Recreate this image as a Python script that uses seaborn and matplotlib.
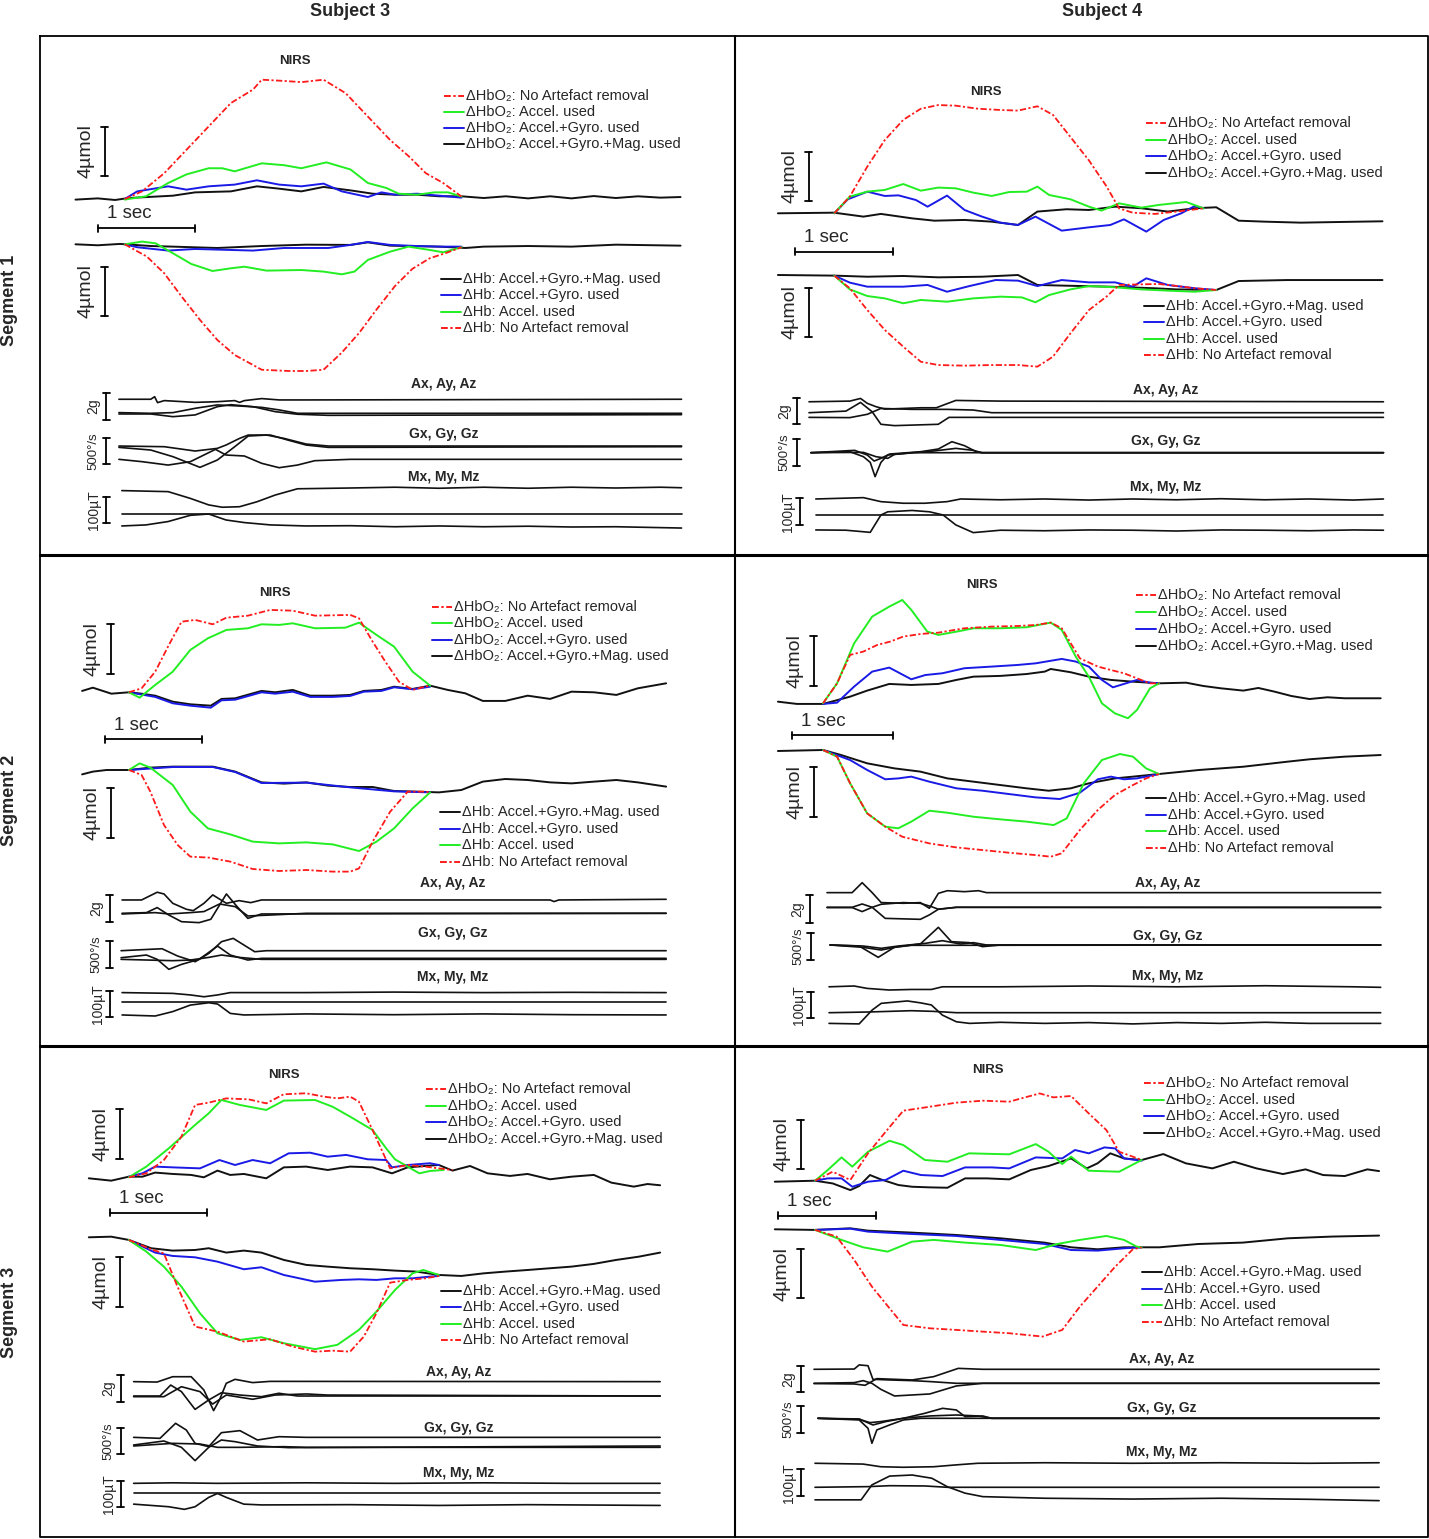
import matplotlib.pyplot as plt
import seaborn as sns

W, H = 1429, 1539

# ---------------- data: (time in s, value) keypoints ----------------
# Subject 3, Segment 1  (NIRS in umol, accel in g, gyro in deg/s, mag in uT)
s3g1_oxy_black_t = [0, 0.23, 0.41, 0.55, 1.01, 1.24, 1.61, 1.88, 2.11, 2.34, 2.57, 2.85, 3.08, 3.31, 3.54, 3.77, 4.0, 4.23, 4.46, 4.69, 4.92, 5.14, 5.37, 5.6, 5.83, 6.06, 6.27]
s3g1_oxy_black_v = [-0.05, 0.05, -0.08, 0.08, 0.27, 0.54, 0.62, 1.03, 0.84, 0.62, 0.98, 0.7, 0.43, 0.35, 0.35, 0.22, 0.22, 0.08, 0.22, 0.05, 0.22, 0.05, 0.24, 0.08, 0.22, 0.11, 0.16]
s3g1_oxy_red_t = [0.51, 0.69, 0.92, 1.15, 1.38, 1.61, 1.84, 1.93, 2.16, 2.34, 2.57, 2.8, 3.03, 3.26, 3.45, 3.63, 3.81, 4.0]
s3g1_oxy_red_v = [0, 0.62, 2.1, 4.0, 5.9, 7.8, 8.9, 9.7, 9.6, 9.5, 9.7, 8.6, 6.7, 4.8, 3.5, 2.1, 1.3, 0.2]
s3g1_oxy_green_t = [0.51, 0.73, 0.96, 1.15, 1.38, 1.52, 1.65, 1.93, 2.16, 2.34, 2.6, 2.85, 3.03, 3.22, 3.35, 3.54, 3.72, 3.86, 4.0]
s3g1_oxy_green_v = [-0.05, 0.22, 1.3, 2.0, 2.5, 2.5, 2.25, 2.9, 2.75, 2.5, 2.98, 2.4, 1.3, 0.9, 0.43, 0.35, 0.54, 0.54, 0.2]
s3g1_oxy_blue_t = [0.51, 0.64, 0.96, 1.15, 1.38, 1.65, 1.88, 2.11, 2.34, 2.57, 2.76, 3.03, 3.17, 3.31, 3.54, 3.77, 4.0]
s3g1_oxy_blue_v = [0, 0.62, 1.03, 0.76, 1.03, 1.17, 1.52, 1.17, 1.03, 1.25, 0.62, 0.16, 0.54, 0.35, 0.43, 0.27, 0.11]
s3g1_deoxy_black_t = [0, 0.23, 0.46, 0.78, 1.01, 1.47, 1.93, 2.39, 2.85, 3.03, 3.26, 3.77, 4.04, 4.23, 4.69, 5.14, 5.6, 6.27]
s3g1_deoxy_black_v = [0, -0.08, 0.03, -0.14, -0.19, -0.3, -0.14, -0.03, -0.05, 0.16, -0.11, -0.19, -0.3, -0.19, -0.14, -0.19, -0.03, -0.11]
s3g1_deoxy_blue_t = [0.51, 0.64, 0.96, 1.24, 1.84, 2.16, 2.62, 2.85, 3.03, 3.26, 3.54, 3.77, 4.0]
s3g1_deoxy_blue_v = [0, -0.24, -0.51, -0.38, -0.51, -0.3, -0.3, -0.05, 0.19, -0.05, -0.14, -0.19, -0.19]
s3g1_deoxy_green_t = [0.51, 0.69, 0.83, 1.01, 1.2, 1.42, 1.61, 1.75, 1.98, 2.34, 2.57, 2.76, 2.89, 3.03, 3.26, 3.45, 3.67, 3.81, 4.0]
s3g1_deoxy_green_v = [0, 0.22, 0.08, -0.73, -1.6, -2.17, -1.95, -1.82, -2.14, -2.09, -2.22, -2.44, -2.22, -1.27, -0.6, -0.19, -0.46, -0.65, -0.24]
s3g1_deoxy_red_t = [0.51, 0.74, 0.92, 1.1, 1.29, 1.47, 1.65, 1.93, 2.21, 2.39, 2.57, 2.76, 2.94, 3.12, 3.31, 3.49, 3.67, 3.86, 4.0]
s3g1_deoxy_red_v = [0, -1.0, -2.36, -4.25, -6.15, -7.78, -9.0, -10.2, -10.3, -10.3, -10.2, -8.8, -7.2, -5.3, -3.4, -2.0, -1.14, -0.65, -0.24]
s3g1_ax_t = [0.45, 0.78, 0.82, 0.85, 0.92, 1.24, 1.47, 1.65, 1.7, 1.75, 1.93, 2.11, 2.39, 6.28]
s3g1_ax_v = [1.04, 1.04, 1.23, 0.79, 0.94, 0.81, 0.86, 0.94, 0.81, 0.94, 1.09, 0.99, 0.99, 1.04]
s3g1_ay_t = [0.45, 0.78, 1.01, 1.24, 1.47, 1.7, 1.93, 2.11, 2.3, 6.28]
s3g1_ay_v = [0.05, 0, 0.05, 0.37, 0.62, 0.54, 0.44, 0.25, 0, 0]
s3g1_az_t = [0.45, 0.78, 1.01, 1.24, 1.47, 1.61, 1.84, 2.07, 2.3, 2.62, 6.28]
s3g1_az_v = [-0.05, -0.05, -0.25, -0.12, 0.49, 0.64, 0.49, 0.12, -0.07, -0.15, -0.1]
s3g1_gx_t = [0.45, 0.92, 1.24, 1.47, 1.56, 1.7, 1.79, 2.02, 2.2, 2.39, 2.62, 6.28]
s3g1_gx_v = [13, 0, -83, -32, 32, 160, 224, 224, 128, 32, -13, 0]
s3g1_gy_t = [0.45, 0.78, 1.01, 1.29, 1.47, 1.65, 1.79, 1.98, 2.16, 2.39, 2.62, 6.28]
s3g1_gy_v = [-13, -64, -192, -397, -256, 0, 205, 224, 160, 51, 13, 13]
s3g1_gz_t = [0.45, 0.69, 0.96, 1.19, 1.45, 1.56, 1.75, 1.93, 2.11, 2.3, 2.48, 2.85, 6.28]
s3g1_gz_v = [-243, -288, -353, -288, -51, -160, -179, -320, -404, -353, -269, -243, -243]
s3g1_mx_t = [0.48, 0.96, 1.19, 1.38, 1.52, 1.7, 1.88, 2.07, 2.3, 2.85, 3.31, 3.77, 4.23, 4.69, 5.14, 5.6, 6.06, 6.28]
s3g1_mx_v = [90, 86, 60, 35, 26, 28, 47, 73, 97, 100, 103, 99, 103, 99, 103, 100, 103, 101]
s3g1_my_t = [0.48, 6.28]
s3g1_my_v = [0, 0]
s3g1_mz_t = [0.48, 0.73, 0.96, 1.19, 1.38, 1.56, 1.75, 2.02, 2.39, 2.85, 3.31, 3.77, 4.23, 4.69, 5.14, 5.6, 6.28]
s3g1_mz_v = [-46, -42, -29, -5, 0, -23, -33, -42, -46, -45, -49, -46, -49, -47, -50, -49, -54]

# Subject 4, Segment 1
s4g1_oxy_black_t = [0, 0.58, 0.88, 1.06, 1.38, 1.61, 1.92, 2.2, 2.47, 2.67, 2.97, 3.2, 3.47, 3.74, 4.01, 4.29, 4.51, 4.74, 5.01, 5.38, 5.83, 6.22]
s4g1_oxy_black_v = [0, 0.05, -0.27, -0.05, -0.41, -0.6, -0.54, -0.68, -0.95, 0.14, 0.33, 0.27, 0.54, 0.41, 0.14, 0.41, 0.49, -0.6, -0.68, -0.76, -0.7, -0.65]
s4g1_oxy_red_t = [0.58, 0.74, 0.92, 1.1, 1.29, 1.47, 1.65, 1.83, 2.06, 2.29, 2.47, 2.67, 2.83, 3.01, 3.2, 3.38, 3.51, 3.65, 3.88, 4.1, 4.38]
s4g1_oxy_red_v = [0, 1.36, 3.8, 5.96, 7.6, 8.5, 8.8, 8.75, 8.5, 8.4, 8.35, 8.7, 8.0, 6.2, 4.3, 2.2, 0.4, 0.05, -0.05, 0.14, 0.4]
s4g1_oxy_green_t = [0.58, 0.74, 0.92, 1.1, 1.29, 1.47, 1.65, 1.83, 2.01, 2.2, 2.38, 2.56, 2.67, 2.79, 3.01, 3.2, 3.33, 3.51, 3.74, 3.92, 4.2, 4.38]
s4g1_oxy_green_v = [0, 1.36, 1.76, 1.9, 2.38, 1.84, 2.09, 2.03, 1.68, 1.41, 1.73, 1.76, 2.17, 1.49, 1.14, 0.54, 0.22, 0.81, 0.46, 0.68, 0.92, 0.4]
s4g1_oxy_blue_t = [0.58, 0.72, 0.92, 1.1, 1.24, 1.42, 1.54, 1.74, 1.92, 2.1, 2.29, 2.47, 2.65, 2.92, 3.2, 3.42, 3.56, 3.79, 3.97, 4.15, 4.29, 4.38]
s4g1_oxy_blue_v = [0, 1.14, 1.76, 1.41, 1.46, 1.08, 0.54, 1.44, 0.27, -0.27, -0.76, -0.95, -0.27, -1.41, -1.14, -0.95, -0.49, -1.49, -0.54, 0, 0.6, 0.4]
s4g1_deoxy_black_t = [0, 0.58, 0.92, 1.29, 1.65, 2.1, 2.47, 2.67, 2.97, 3.42, 3.88, 4.1, 4.51, 4.74, 5.24, 6.22]
s4g1_deoxy_black_v = [0, -0.05, -0.14, -0.08, -0.19, -0.14, 0, -0.81, -0.87, -0.95, -1.08, -1.17, -1.22, -0.49, -0.41, -0.41]
s4g1_deoxy_blue_t = [0.58, 0.74, 0.92, 1.29, 1.54, 1.74, 1.97, 2.24, 2.47, 2.67, 2.92, 3.2, 3.47, 3.65, 3.79, 4.01, 4.29, 4.51]
s4g1_deoxy_blue_v = [-0.05, -0.62, -0.95, -0.95, -0.81, -1.36, -0.9, -0.41, -0.46, -0.9, -0.41, -0.6, -0.6, -0.95, -0.27, -0.81, -1.08, -1.22]
s4g1_deoxy_green_t = [0.58, 0.74, 0.92, 1.1, 1.29, 1.47, 1.74, 2.01, 2.29, 2.51, 2.65, 2.79, 3.01, 3.2, 3.47, 3.74, 4.01, 4.29, 4.51]
s4g1_deoxy_green_v = [-0.05, -1.17, -1.71, -1.9, -2.3, -2.03, -2.17, -1.9, -1.76, -1.82, -2.22, -1.63, -1.17, -0.9, -1.0, -1.17, -1.27, -1.36, -1.22]
s4g1_deoxy_red_t = [0.58, 0.74, 0.92, 1.1, 1.29, 1.47, 1.65, 1.92, 2.2, 2.47, 2.67, 2.83, 3.01, 3.2, 3.38, 3.51, 3.74, 3.92, 4.1, 4.29, 4.51]
s4g1_deoxy_red_v = [-0.05, -1.08, -2.85, -4.47, -5.83, -7.05, -7.32, -7.37, -7.32, -7.32, -7.45, -6.64, -4.74, -2.85, -1.76, -0.81, -0.76, -0.73, -0.89, -1.08, -1.22]
s4g1_ax_t = [0.32, 0.74, 0.85, 0.92, 1.01, 1.1, 1.29, 1.47, 1.63, 1.72, 1.83, 2.29, 6.23]
s4g1_ax_v = [0.82, 0.87, 1.07, 0.7, 0.45, 0.27, 0.32, 0.37, 0.37, 0.62, 0.92, 0.87, 0.82]
s4g1_ay_t = [0.32, 0.7, 0.85, 0.97, 1.06, 1.2, 1.65, 1.76, 6.23]
s4g1_ay_v = [0, 0.12, 0.77, 0.07, -0.87, -0.97, -0.87, -0.35, -0.35]
s4g1_az_t = [0.32, 0.74, 0.92, 1.06, 1.38, 1.74, 2.01, 2.2, 6.23]
s4g1_az_v = [-0.35, -0.37, -0.12, 0.32, 0.25, 0.25, 0.2, 0, 0]
s4g1_gx_t = [0.34, 0.74, 0.88, 0.95, 1.0, 1.06, 1.13, 1.38, 6.23]
s4g1_gx_v = [0, 19, -75, -181, -449, -181, -44, 0, 0]
s4g1_gy_t = [0.34, 0.79, 0.92, 0.99, 1.06, 1.15, 1.47, 1.65, 1.79, 1.92, 2.04, 2.1, 6.23]
s4g1_gy_v = [0, 44, -44, -156, -106, -25, 19, 69, 206, 131, 19, 0, 0]
s4g1_gz_t = [0.34, 0.88, 1.01, 1.13, 1.2, 1.6, 1.83, 2.01, 2.1, 6.23]
s4g1_gz_v = [0, 6, -75, -106, -31, 31, 81, 44, 0, 0]
s4g1_mx_t = [0.39, 0.88, 1.06, 1.29, 1.51, 1.74, 1.88, 2.29, 2.74, 3.2, 3.65, 4.1, 4.56, 5.01, 5.47, 5.92, 6.23]
s4g1_mx_v = [60, 65, 50, 44, 44, 50, 60, 57, 60, 56, 60, 57, 61, 57, 60, 56, 60]
s4g1_my_t = [0.39, 6.23]
s4g1_my_v = [0, 0]
s4g1_mz_t = [0.39, 0.7, 0.95, 1.06, 1.13, 1.38, 1.56, 1.7, 1.83, 2.01, 2.29, 2.74, 3.2, 3.65, 4.1, 4.56, 5.01, 5.47, 5.92, 6.23]
s4g1_mz_v = [-56, -57, -65, 0, 12, 17, 12, 0, -37, -66, -57, -59, -56, -57, -60, -56, -57, -59, -56, -57]

# Subject 3, Segment 2
s3g2_oxy_black_t = [0, 0.11, 0.3, 0.48, 0.61, 0.75, 0.93, 1.11, 1.32, 1.43, 1.57, 1.84, 1.98, 2.16, 2.34, 2.57, 2.75, 2.89, 3.07, 3.2, 3.39, 3.57, 3.75, 3.93, 4.11, 4.34, 4.57, 4.8, 5.02, 5.25, 5.48, 5.7, 5.99]
s3g2_oxy_black_v = [0.11, 0.37, -0.11, 0, -0.11, -0.27, -0.75, -0.96, -1.07, -0.53, -0.48, 0.11, 0, 0.19, -0.27, -0.27, -0.21, 0.11, 0.19, 0.45, 0.27, 0.53, 0.19, -0.08, -0.69, -0.69, -0.27, -0.53, 0.05, 0, -0.21, 0.32, 0.72]
s3g2_oxy_blue_t = [0.48, 0.75, 0.93, 1.11, 1.32, 1.43, 1.57, 1.84, 1.98, 2.16, 2.34, 2.57, 2.75, 2.89, 3.07, 3.2, 3.39, 3.57]
s3g2_oxy_blue_v = [0, -0.37, -0.88, -1.07, -1.23, -0.64, -0.59, 0, -0.11, 0.05, -0.37, -0.37, -0.29, 0.05, 0.11, 0.4, 0.24, 0.45]
s3g2_oxy_red_t = [0.48, 0.61, 0.75, 0.89, 1.02, 1.16, 1.34, 1.48, 1.7, 1.93, 2.16, 2.39, 2.75, 2.84, 2.98, 3.11, 3.25, 3.39, 3.52, 3.57]
s3g2_oxy_red_v = [0, 0.32, 1.65, 3.79, 5.65, 5.79, 5.44, 5.97, 6.13, 6.59, 6.53, 6.13, 6.19, 5.92, 4.05, 2.45, 0.85, 0.19, 0.45, 0.53]
s3g2_oxy_green_t = [0.48, 0.59, 0.75, 0.93, 1.11, 1.29, 1.48, 1.7, 1.84, 2.02, 2.16, 2.39, 2.7, 2.84, 3.02, 3.2, 3.39, 3.57]
s3g2_oxy_green_v = [0, -0.43, 0.59, 1.65, 3.39, 4.32, 4.99, 5.12, 5.44, 5.39, 5.52, 5.12, 5.17, 5.57, 4.59, 3.65, 1.65, 0.53]
s3g2_deoxy_black_t = [0, 0.11, 0.25, 0.48, 0.7, 0.93, 1.34, 1.57, 1.84, 2.07, 2.3, 2.52, 2.75, 2.98, 3.2, 3.43, 3.66, 3.89, 4.11, 4.34, 4.57, 4.8, 5.02, 5.25, 5.48, 5.7, 5.99]
s3g2_deoxy_black_v = [-0.35, -0.13, 0, 0, 0.19, 0.27, 0.27, -0.13, -0.99, -1.09, -0.99, -1.25, -1.36, -1.36, -1.68, -1.73, -1.79, -1.6, -0.93, -0.72, -0.8, -0.99, -1.07, -0.93, -0.8, -0.99, -1.33]
s3g2_deoxy_blue_t = [0.48, 0.93, 1.34, 1.57, 1.84, 2.3, 2.75, 3.2, 3.57]
s3g2_deoxy_blue_v = [0, 0.24, 0.24, -0.16, -1.04, -1.01, -1.39, -1.71, -1.79]
s3g2_deoxy_green_t = [0.48, 0.59, 0.7, 0.93, 1.11, 1.29, 1.52, 1.75, 2.02, 2.3, 2.57, 2.84, 3.02, 3.2, 3.39, 3.57]
s3g2_deoxy_green_v = [0, 0.53, 0.19, -1.2, -3.33, -4.67, -5.15, -5.73, -5.87, -5.79, -5.95, -6.48, -5.73, -4.67, -3.07, -1.79]
s3g2_deoxy_red_t = [0.48, 0.61, 0.7, 0.84, 0.98, 1.11, 1.3, 1.52, 1.75, 2.02, 2.3, 2.57, 2.75, 2.84, 2.98, 3.16, 3.34, 3.52, 3.57]
s3g2_deoxy_red_v = [0, -0.4, -1.73, -4.4, -6.0, -6.93, -7.01, -7.33, -7.92, -8.08, -8.0, -8.13, -8.13, -7.87, -5.73, -3.33, -1.73, -1.73, -1.79]
s3g2_ax_t = [0.41, 0.61, 0.77, 0.84, 0.93, 1.07, 1.14, 1.25, 1.34, 1.48, 1.61, 1.73, 1.84, 4.8, 4.84, 4.89, 5.99]
s3g2_ax_v = [1.0, 1.0, 1.58, 1.45, 0.75, 0.3, 0.2, 0.75, 1.38, 0.75, 0.95, 0.8, 1.0, 1.0, 0.88, 1.0, 1.05]
s3g2_ay_t = [0.41, 0.66, 0.77, 0.89, 1.02, 1.2, 1.32, 1.48, 1.59, 1.7, 1.84, 5.99]
s3g2_ay_v = [0, 0.05, 0.43, -0.13, -0.63, -0.7, -0.45, 1.45, 0.5, -0.38, -0.05, 0]
s3g2_az_t = [0.41, 0.75, 0.89, 1.11, 1.25, 1.41, 1.57, 1.7, 1.93, 2.3, 5.99]
s3g2_az_v = [-0.05, 0.05, -0.05, 0.05, 0.13, 0.7, 0.5, -0.2, -0.13, 0, 0]
s3g2_gx_t = [0.4, 0.82, 0.98, 1.16, 1.3, 1.43, 1.55, 1.66, 1.77, 1.89, 5.99]
s3g2_gx_v = [131, 168, 31, -75, 81, 300, 362, 237, 112, 131, 131]
s3g2_gy_t = [0.4, 0.66, 0.77, 0.89, 1.02, 1.2, 1.39, 1.52, 1.7, 1.84, 5.99]
s3g2_gy_v = [0, 50, -31, -218, -125, -31, 218, 50, -44, -12, -12]
s3g2_gz_t = [0.4, 0.93, 1.11, 1.3, 1.43, 1.61, 1.84, 5.99]
s3g2_gz_v = [-31, -56, -44, 6, 50, 6, -31, -31]
s3g2_mx_t = [0.41, 0.93, 1.11, 1.25, 1.39, 1.52, 2.3, 3.2, 4.11, 5.02, 5.99]
s3g2_mx_v = [35, 32, 26, 19, 26, 35, 35, 37, 35, 36, 35]
s3g2_my_t = [0.41, 5.99]
s3g2_my_v = [0, 0]
s3g2_mz_t = [0.41, 0.75, 0.93, 1.11, 1.3, 1.39, 1.52, 1.66, 2.3, 3.2, 4.11, 5.02, 5.99]
s3g2_mz_v = [-51, -55, -38, -13, -4, -9, -45, -51, -47, -50, -47, -50, -51]

# Subject 4, Segment 2
s4g2_oxy_black_t = [0, 0.19, 0.45, 0.72, 0.89, 1.11, 1.33, 1.6, 1.78, 1.95, 2.22, 2.48, 2.66, 2.72, 2.92, 3.1, 3.32, 3.54, 3.8, 4.07, 4.24, 4.42, 4.64, 4.79, 4.95, 5.12, 5.3, 5.48, 5.65, 6.01]
s4g2_oxy_black_v = [0.13, -0.05, -0.05, 0.53, 1.01, 1.54, 1.46, 1.54, 1.86, 2.12, 2.18, 2.33, 2.52, 2.73, 2.47, 2.12, 1.86, 1.72, 1.59, 1.64, 1.38, 1.19, 1.01, 1.22, 0.93, 0.58, 0.34, 0.48, 0.4, 0.4]
s4g2_oxy_blue_t = [0.45, 0.59, 0.76, 0.94, 1.11, 1.25, 1.33, 1.47, 1.64, 1.86, 2.13, 2.39, 2.57, 2.83, 2.97, 3.1, 3.23, 3.34, 3.45, 3.58, 3.71, 3.8]
s4g2_oxy_blue_v = [-0.05, 0.05, 1.33, 2.52, 2.84, 2.25, 1.91, 2.25, 2.39, 2.79, 2.92, 3.05, 3.18, 3.53, 3.32, 2.92, 1.86, 1.27, 1.54, 1.86, 1.64, 1.59]
s4g2_oxy_red_t = [0.45, 0.59, 0.72, 0.85, 0.99, 1.12, 1.25, 1.43, 1.6, 1.86, 2.13, 2.39, 2.57, 2.72, 2.83, 3.01, 3.19, 3.32, 3.45, 3.58, 3.71, 3.8]
s4g2_oxy_red_v = [0, 1.59, 3.85, 4.11, 4.64, 4.91, 5.31, 5.52, 5.62, 5.97, 6.1, 6.15, 6.23, 6.42, 5.97, 3.58, 2.92, 2.65, 2.39, 1.99, 1.59, 1.59]
s4g2_oxy_green_t = [0.45, 0.59, 0.76, 0.94, 1.11, 1.24, 1.33, 1.49, 1.6, 1.78, 1.95, 2.22, 2.48, 2.72, 2.83, 2.97, 3.1, 3.23, 3.36, 3.49, 3.58, 3.71, 3.8]
s4g2_oxy_green_v = [0, 1.59, 4.77, 6.9, 7.69, 8.22, 7.43, 5.7, 5.44, 5.7, 5.97, 5.97, 6.05, 6.42, 5.84, 3.71, 2.12, 0, -0.8, -1.19, -0.53, 1.19, 1.59]
s4g2_deoxy_black_t = [0, 0.45, 0.63, 0.89, 1.16, 1.42, 1.69, 1.95, 2.22, 2.48, 2.7, 2.92, 3.1, 3.36, 3.54, 3.8, 4.2, 4.64, 5.08, 5.3, 5.65, 6.01]
s4g2_deoxy_black_v = [0, 0.08, -0.32, -0.98, -1.38, -1.64, -2.18, -2.44, -2.71, -2.97, -3.16, -2.97, -2.57, -2.18, -2.04, -1.83, -1.51, -1.25, -0.85, -0.66, -0.45, -0.32]
s4g2_deoxy_blue_t = [0.45, 0.72, 0.89, 1.07, 1.2, 1.33, 1.51, 1.78, 2.04, 2.3, 2.57, 2.81, 3.01, 3.19, 3.32, 3.45, 3.58, 3.8]
s4g2_deoxy_blue_v = [0.08, -0.72, -1.51, -2.25, -2.18, -2.04, -2.44, -2.97, -3.16, -3.42, -3.69, -3.82, -3.32, -2.25, -2.04, -2.25, -2.18, -1.83]
s4g2_deoxy_green_t = [0.45, 0.59, 0.72, 0.89, 1.07, 1.2, 1.33, 1.51, 1.69, 1.95, 2.22, 2.48, 2.75, 2.88, 3.05, 3.23, 3.41, 3.54, 3.67, 3.8]
s4g2_deoxy_green_v = [0.08, -0.45, -2.57, -4.96, -6.02, -6.15, -5.62, -4.75, -4.91, -5.23, -5.44, -5.62, -5.89, -5.36, -2.57, -0.72, -0.24, -0.45, -1.38, -1.83]
s4g2_deoxy_red_t = [0.45, 0.59, 0.72, 0.89, 1.07, 1.24, 1.51, 1.78, 2.04, 2.3, 2.57, 2.72, 2.83, 3.01, 3.19, 3.36, 3.54, 3.67, 3.8]
s4g2_deoxy_red_v = [0.08, -0.45, -2.57, -4.96, -6.02, -6.82, -7.35, -7.67, -7.88, -8.09, -8.28, -8.41, -8.14, -6.29, -4.69, -3.5, -2.71, -2.18, -1.83]
s4g2_ax_t = [0.49, 0.74, 0.84, 0.94, 1.03, 1.25, 1.42, 1.51, 1.6, 1.69, 1.86, 2.0, 2.08, 6.01]
s4g2_ax_v = [1.06, 1.06, 1.78, 1.06, 0.34, 0.29, 0.34, -0.07, 1.01, 1.2, 1.13, 1.2, 1.06, 1.06]
s4g2_ay_t = [0.49, 0.74, 0.84, 0.94, 1.07, 1.42, 1.51, 1.6, 1.78, 6.01]
s4g2_ay_v = [0, 0, 0.24, 0, -0.8, -0.87, -0.55, -0.14, 0, 0]
s4g2_az_t = [0.49, 0.74, 0.84, 0.94, 1.03, 1.25, 1.42, 1.53, 1.6, 1.78, 6.01]
s4g2_az_v = [-0.02, -0.02, -0.31, 0, 0.22, 0.34, 0.29, 0.05, -0.14, 0, -0.02]
s4g2_gx_t = [0.52, 0.81, 1.0, 1.16, 1.33, 6.01]
s4g2_gx_v = [0, -19, -231, -44, -6, 0]
s4g2_gy_t = [0.52, 0.85, 1.03, 1.2, 1.42, 1.6, 1.73, 1.91, 2.04, 2.22, 6.01]
s4g2_gy_v = [0, -44, -94, -31, 19, 331, 62, 44, -31, 0, 0]
s4g2_gz_t = [0.52, 0.85, 1.03, 1.2, 1.47, 1.64, 1.82, 1.95, 2.08, 6.01]
s4g2_gz_v = [0, -19, -62, -19, 31, 81, 19, 44, 0, 0]
s4g2_mx_t = [0.51, 0.76, 0.89, 1.11, 1.33, 1.53, 1.64, 2.22, 3.1, 3.98, 4.86, 5.74, 6.01]
s4g2_mx_v = [97, 100, 91, 85, 87, 87, 97, 97, 100, 97, 101, 97, 95]
s4g2_my_t = [0.51, 0.89, 1.33, 1.55, 1.78, 6.01]
s4g2_my_v = [0, 2.5, 7.5, 5, 0, 0]
s4g2_mz_t = [0.51, 0.81, 0.94, 1.03, 1.29, 1.42, 1.53, 1.64, 1.78, 1.91, 2.22, 2.66, 3.1, 3.54, 3.98, 4.42, 4.86, 5.3, 6.01]
s4g2_mz_v = [-40, -42, 10, 35, 44, 37, 29, -9, -34, -40, -36, -40, -37, -42, -37, -40, -36, -40, -40]

# Subject 3, Segment 3
s3g3_oxy_black_t = [0, 0.23, 0.41, 0.55, 0.68, 0.86, 1.05, 1.18, 1.32, 1.45, 1.59, 1.82, 2.0, 2.23, 2.45, 2.68, 2.91, 3.11, 3.27, 3.45, 3.59, 3.73, 3.91, 4.09, 4.32, 4.5, 4.73, 4.95, 5.18, 5.36, 5.59, 5.73, 5.86]
s3g3_oxy_black_v = [0, -0.19, 0.13, 0.13, 0.46, 0.35, 0.27, 0.08, 0.62, 0.27, 0.35, 0, 0.88, 0.94, 0.67, 0.94, 0.88, 0.4, 0.88, 0.99, 1.07, 0.62, 0.99, 0.4, 0.19, 0.35, -0.08, 0.13, 0.27, -0.35, -0.67, -0.46, -0.56]
s3g3_oxy_blue_t = [0.41, 0.55, 0.68, 0.86, 1.14, 1.34, 1.5, 1.68, 1.86, 2.05, 2.27, 2.45, 2.64, 2.86, 3.05, 3.11, 3.27, 3.5, 3.59]
s3g3_oxy_blue_v = [0.13, 0.4, 0.94, 0.88, 0.8, 1.47, 1.07, 1.47, 1.21, 2.01, 2.06, 1.74, 1.88, 1.53, 1.47, 0.88, 1.07, 1.21, 1.07]
s3g3_oxy_red_t = [0.41, 0.59, 0.77, 0.95, 1.09, 1.23, 1.41, 1.64, 1.82, 2.0, 2.23, 2.41, 2.55, 2.68, 2.77, 2.91, 3.09, 3.27, 3.45, 3.59, 3.73]
s3g3_oxy_red_v = [0.08, 0.4, 1.47, 3.35, 5.9, 6.09, 6.43, 6.35, 6.03, 6.76, 6.84, 6.57, 6.43, 6.57, 6.17, 3.89, 0.8, 1.07, 0.94, 0.8, 0.67]
s3g3_oxy_green_t = [0.41, 0.59, 0.82, 1.09, 1.23, 1.36, 1.55, 1.82, 2.0, 2.32, 2.5, 2.68, 2.91, 3.05, 3.14, 3.27, 3.39, 3.5, 3.64]
s3g3_oxy_green_v = [0.08, 0.94, 2.41, 4.29, 5.23, 6.3, 5.9, 5.5, 6.25, 6.3, 5.76, 4.96, 3.89, 2.41, 1.53, 0.94, 0.4, 0.59, 0.67]
s3g3_deoxy_black_t = [0, 0.23, 0.41, 0.64, 0.86, 1.09, 1.23, 1.41, 1.59, 1.77, 2.0, 2.23, 2.45, 2.68, 2.91, 3.14, 3.36, 3.59, 3.82, 4.05, 4.27, 4.5, 4.73, 4.95, 5.18, 5.41, 5.64, 5.86]
s3g3_deoxy_black_v = [0, 0.05, -0.21, -0.88, -1.07, -1.02, -0.88, -1.23, -1.07, -1.23, -1.82, -2.22, -2.36, -2.49, -2.57, -2.68, -2.76, -3.03, -3.11, -2.9, -2.76, -2.63, -2.49, -2.36, -2.14, -1.82, -1.56, -1.23]
s3g3_deoxy_blue_t = [0.41, 0.68, 0.86, 1.09, 1.32, 1.59, 1.77, 2.0, 2.32, 2.59, 2.77, 2.95, 3.14, 3.32, 3.5, 3.59]
s3g3_deoxy_blue_v = [-0.21, -1.23, -1.5, -1.61, -1.96, -2.57, -2.41, -3.03, -3.57, -3.43, -3.38, -3.43, -3.3, -3.3, -3.16, -3.11]
s3g3_deoxy_green_t = [0.41, 0.59, 0.77, 0.95, 1.14, 1.32, 1.55, 1.77, 2.0, 2.32, 2.55, 2.77, 2.95, 3.14, 3.32, 3.43, 3.59]
s3g3_deoxy_green_v = [-0.21, -1.15, -2.36, -3.97, -6.11, -7.72, -8.26, -8.04, -8.52, -9.0, -8.65, -7.45, -5.98, -4.24, -2.9, -2.63, -3.03]
s3g3_deoxy_red_t = [0.41, 0.64, 0.77, 0.91, 1.09, 1.32, 1.59, 1.86, 2.09, 2.32, 2.5, 2.68, 2.82, 2.95, 3.09, 3.27, 3.45, 3.59]
s3g3_deoxy_red_v = [-0.21, -0.97, -1.29, -3.97, -7.18, -7.59, -8.39, -8.2, -8.79, -9.2, -9.12, -9.2, -7.99, -6.11, -3.65, -3.43, -3.3, -3.11]
s3g3_ax_t = [0.46, 0.7, 0.86, 1.05, 1.18, 1.28, 1.34, 1.41, 1.5, 1.68, 1.86, 5.86]
s3g3_ax_v = [1.05, 1.02, 1.41, 1.41, 0.44, -1.07, -0.29, 0.93, 1.22, 0.98, 1.07, 1.05]
s3g3_ay_t = [0.46, 0.73, 0.84, 0.95, 1.09, 1.23, 1.36, 1.55, 1.77, 1.95, 2.14, 5.86]
s3g3_ay_v = [0, 0, 0.8, 0.32, -0.98, -0.29, 0.24, 0.07, -0.05, 0.2, 0, 0]
s3g3_az_t = [0.46, 0.77, 0.95, 1.14, 1.27, 1.41, 1.68, 1.91, 2.23, 2.45, 5.86]
s3g3_az_v = [-0.05, -0.05, 0.68, 0.32, -0.59, 0.07, -0.24, 0.07, 0.15, 0.07, 0]
s3g3_gx_t = [0.46, 0.73, 0.89, 1.0, 1.09, 1.23, 1.36, 1.55, 1.73, 1.95, 2.23, 5.86]
s3g3_gx_v = [147, 128, 417, 288, 32, -32, 237, 276, 96, 160, 147, 147]
s3g3_gy_t = [0.46, 0.77, 0.95, 1.09, 1.23, 1.36, 1.5, 1.73, 2.05, 5.86]
s3g3_gy_v = [0, 77, -45, -301, -45, 96, 64, -19, -51, -19]
s3g3_gz_t = [0.46, 0.86, 1.14, 1.32, 1.55, 2.0, 2.23, 5.86]
s3g3_gz_v = [-19, 32, 19, -45, -45, -32, -45, -45]
s3g3_mx_t = [0.46, 0.86, 1.32, 2.23, 3.14, 4.05, 4.95, 5.86]
s3g3_mx_v = [36, 38, 36, 38, 36, 38, 36, 36]
s3g3_my_t = [0.46, 5.86]
s3g3_my_v = [0, 0]
s3g3_mz_t = [0.46, 0.82, 0.98, 1.09, 1.23, 1.32, 1.41, 1.59, 1.77, 2.68, 3.59, 4.5, 5.86]
s3g3_mz_v = [-44, -54, -64, -54, -18, -3, -18, -44, -47, -46, -49, -46, -49]

# Subject 4, Segment 3
s4g3_oxy_black_t = [0, 0.41, 0.59, 0.77, 0.86, 0.97, 1.08, 1.26, 1.4, 1.58, 1.76, 1.94, 2.16, 2.39, 2.61, 2.79, 3.02, 3.18, 3.29, 3.42, 3.56, 3.74, 3.96, 4.19, 4.46, 4.68, 4.91, 5.18, 5.41, 5.59, 5.81, 6.04, 6.16]
s4g3_oxy_black_v = [0, 0.08, -0.14, -0.68, -0.35, 0.54, 0.19, -0.27, -0.41, -0.46, -0.49, 0.27, 0.27, 0.19, 0.95, 1.27, 1.89, 1.08, 1.49, 2.3, 1.89, 1.76, 2.24, 1.49, 1.08, 1.62, 1.08, 0.62, 1.0, 0.54, 0.46, 1.0, 0.86]
s4g3_oxy_blue_t = [0.41, 0.54, 0.68, 0.79, 0.95, 1.13, 1.31, 1.49, 1.71, 1.94, 2.21, 2.39, 2.66, 2.93, 3.06, 3.2, 3.36, 3.47, 3.56, 3.74]
s4g3_oxy_blue_v = [0.08, 0.27, 0.27, -0.41, 0, 0.14, 0.89, 0.54, 0.46, 1.16, 1.16, 1.08, 1.97, 1.89, 2.57, 2.3, 2.78, 2.7, 1.89, 1.7]
s4g3_oxy_red_t = [0.41, 0.59, 0.77, 0.95, 1.13, 1.31, 1.58, 1.85, 2.12, 2.39, 2.7, 2.84, 3.02, 3.2, 3.38, 3.51, 3.65, 3.74]
s4g3_oxy_red_v = [0.08, 0.81, 0.14, 2.3, 4.05, 5.76, 6.08, 6.41, 6.57, 6.49, 7.16, 6.84, 6.95, 5.54, 4.19, 2.43, 2.03, 1.76]
s4g3_oxy_green_t = [0.41, 0.54, 0.68, 0.79, 0.95, 1.17, 1.31, 1.53, 1.76, 1.98, 2.39, 2.66, 2.79, 2.93, 3.02, 3.2, 3.51, 3.74]
s4g3_oxy_green_v = [0.08, 0.95, 1.97, 1.22, 2.43, 3.32, 2.97, 1.76, 1.62, 2.3, 2.22, 3.05, 2.43, 1.43, 2.03, 0.89, 0.81, 1.76]
s4g3_deoxy_black_t = [0, 0.41, 0.77, 0.95, 1.4, 1.85, 2.3, 2.75, 3.02, 3.29, 3.56, 3.92, 4.32, 4.77, 5.23, 5.68, 6.16]
s4g3_deoxy_black_v = [0, -0.05, 0.08, -0.11, -0.27, -0.46, -0.73, -1.08, -1.46, -1.62, -1.46, -1.46, -1.19, -1.08, -0.73, -0.59, -0.51]
s4g3_deoxy_blue_t = [0.41, 0.77, 0.95, 1.4, 1.85, 2.3, 2.75, 3.02, 3.29, 3.56, 3.74]
s4g3_deoxy_blue_v = [-0.05, 0.05, -0.19, -0.38, -0.54, -0.86, -1.19, -1.68, -1.73, -1.54, -1.46]
s4g3_deoxy_green_t = [0.41, 0.68, 0.9, 1.15, 1.4, 1.62, 1.94, 2.3, 2.66, 2.88, 3.11, 3.38, 3.56, 3.69, 3.74]
s4g3_deoxy_green_v = [-0.05, -0.86, -1.46, -1.81, -1.0, -0.86, -1.08, -1.27, -1.68, -1.19, -0.86, -0.54, -0.86, -1.41, -1.46]
s4g3_deoxy_red_t = [0.41, 0.63, 0.81, 0.99, 1.17, 1.31, 1.58, 1.85, 2.12, 2.39, 2.73, 2.93, 3.11, 3.29, 3.47, 3.65, 3.74]
s4g3_deoxy_red_v = [-0.05, -0.59, -2.49, -4.65, -6.41, -7.76, -8.03, -8.16, -8.3, -8.43, -8.7, -8.16, -6.27, -4.65, -3.03, -1.62, -1.46]
s4g3_ax_t = [0.4, 0.81, 0.86, 0.95, 1.0, 1.17, 1.4, 1.58, 1.85, 6.16]
s4g3_ax_v = [1.05, 1.07, 1.38, 1.32, 0.3, 0.25, 0.2, 0.13, 0, 0]
s4g3_ay_t = [0.4, 0.81, 0.9, 0.99, 1.08, 1.22, 1.58, 1.85, 2.12, 6.16]
s4g3_ay_v = [0, 0.05, 0.2, 0, -0.45, -0.95, -0.8, -0.2, 0, 0]
s4g3_az_t = [0.4, 0.81, 0.92, 1.04, 1.4, 1.62, 1.87, 2.12, 6.16]
s4g3_az_v = [-0.02, -0.05, -0.15, 0.35, 0.25, 0.5, 1.12, 1.05, 1.05]
s4g3_gx_t = [0.44, 0.86, 0.95, 0.99, 1.04, 1.17, 1.31, 1.49, 6.16]
s4g3_gx_v = [0, -31, -187, -468, -218, -125, -31, 0, 0]
s4g3_gy_t = [0.44, 0.86, 0.97, 1.08, 1.31, 1.53, 1.71, 1.85, 1.94, 2.12, 2.21, 6.16]
s4g3_gy_v = [0, -19, -81, -62, 0, 94, 187, 156, 31, 44, 0, 0]
s4g3_gz_t = [0.44, 0.86, 1.0, 1.13, 1.31, 1.58, 1.85, 2.07, 2.21, 6.16]
s4g3_gz_v = [0, -12, -125, -62, 0, 44, 62, 44, 0, 0]
s4g3_mx_t = [0.41, 0.9, 1.08, 1.31, 1.62, 1.85, 2.07, 2.75, 3.65, 4.55, 5.45, 6.16]
s4g3_mx_v = [90, 87, 77, 75, 77, 84, 90, 92, 90, 92, 90, 92]
s4g3_my_t = [0.41, 0.95, 1.17, 1.53, 1.76, 6.16]
s4g3_my_v = [0, 2.5, 6, 5, 0, 0]
s4g3_mz_t = [0.41, 0.88, 0.99, 1.17, 1.4, 1.6, 1.76, 1.94, 2.12, 2.75, 3.65, 4.55, 5.45, 6.16]
s4g3_mz_v = [-47, -47, 9, 42, 46, 34, 2, -22, -35, -41, -44, -41, -45, -50]

subjects = ["Subject 3", "Subject 4"]
segments = ["Segment 1", "Segment 2", "Segment 3"]
oxy_labels = ["ΔHbO₂: No Artefact removal", "ΔHbO₂: Accel. used",
              "ΔHbO₂: Accel.+Gyro. used", "ΔHbO₂: Accel.+Gyro.+Mag. used"]
deoxy_labels = ["ΔHb: Accel.+Gyro.+Mag. used", "ΔHb: Accel.+Gyro. used",
                "ΔHb: Accel. used", "ΔHb: No Artefact removal"]

RED, GREEN, BLUE, BLACK = "#ff1a1a", "#22ee22", "#1a1ae6", "#111111"
DASH = (0, (3.5, 1.3, 1.2, 1.3))

# ---------------- layout (pixels) ----------------
# x0: pixel of t=0, pps: px per second, ppu: px per umol, ppg: px per g,
# ppd: px per deg/s, ppt: px per uT, *_y0: pixel row of the zero level
PANELS = [
    dict(x0=75.5, pps=96.5, ppu=12.3, oxy_y0=199.0, deoxy_y0=244.3,
         acc_y0=413.3, ppg=13.5, gyr_y0=446.7, ppd=0.052, mag_y0=514.0, ppt=0.26,
         nirs=(295, 61), sec_bar=(98.5, 228), oxy_bar=(105, 176), deoxy_bar=(105, 316),
         acc_bar=(106.5, 420), gyr_bar=(106.5, 464), mag_bar=(106.5, 523),
         sens_x=444, sens_y=(384.3, 434, 476.7),
         oxy_leg=(444, 96, 16.0), deoxy_leg=(441, 279, 16.3)),
    dict(x0=777.9, pps=97.2, ppu=12.3, oxy_y0=213.3, deoxy_y0=275.0,
         acc_y0=412.7, ppg=13.33, gyr_y0=452.7, ppd=0.0534, mag_y0=515.0, ppt=0.267,
         nirs=(985.6, 91.7), sec_bar=(795.5, 251.7), oxy_bar=(809, 200.7), deoxy_bar=(809, 337),
         acc_bar=(797, 424.3), gyr_bar=(797, 465.7), mag_bar=(800, 525),
         sens_x=1165.8, sens_y=(390, 440.7, 486.7),
         oxy_leg=(1146, 123, 16.7), deoxy_leg=(1144, 306, 16.3)),
    dict(x0=82.1, pps=97.5, ppu=12.5, oxy_y0=692.3, deoxy_y0=770.0,
         acc_y0=913.3, ppg=13.33, gyr_y0=957.7, ppd=0.0534, mag_y0=1001.7, ppt=0.26,
         nirs=(275, 593.3), sec_bar=(105, 739), oxy_bar=(111, 674), deoxy_bar=(111, 838),
         acc_bar=(109.6, 921.7), gyr_bar=(109.6, 967.7), mag_bar=(109.6, 1016.7),
         sens_x=453, sens_y=(883.3, 933.3, 977.3),
         oxy_leg=(432, 607, 16.3), deoxy_leg=(440, 812, 16.7)),
    dict(x0=777.9, pps=100.3, ppu=12.57, oxy_y0=703.3, deoxy_y0=751.0,
         acc_y0=907.3, ppg=13.83, gyr_y0=945.0, ppd=0.0534, mag_y0=1012.7, ppt=0.267,
         nirs=(981.6, 585), sec_bar=(792.4, 735), oxy_bar=(813.7, 686), deoxy_bar=(813.7, 817),
         acc_bar=(810, 922.7), gyr_bar=(811, 960), mag_bar=(811, 1018.3),
         sens_x=1168, sens_y=(882.7, 935.7, 976),
         oxy_leg=(1136, 595, 17.0), deoxy_leg=(1146, 798, 16.7)),
    dict(x0=88.8, pps=97.5, ppu=12.43, oxy_y0=1178.3, deoxy_y0=1237.3,
         acc_y0=1396.0, ppg=13.67, gyr_y0=1445.0, ppd=0.052, mag_y0=1492.7, ppt=0.26,
         nirs=(283.8, 1075), sec_bar=(110, 1212.7), oxy_bar=(119.8, 1159), deoxy_bar=(119.8, 1306.7),
         acc_bar=(121, 1402.3), gyr_bar=(121, 1454.3), mag_bar=(121, 1506.7),
         sens_x=458.9, sens_y=(1372.3, 1428.3, 1473.3),
         oxy_leg=(425.6, 1089, 16.7), deoxy_leg=(441, 1291, 16.3)),
    dict(x0=774.8, pps=98.1, ppu=12.33, oxy_y0=1181.7, deoxy_y0=1229.3,
         acc_y0=1383.3, ppg=13.33, gyr_y0=1418.3, ppd=0.0534, mag_y0=1487.3, ppt=0.267,
         nirs=(988, 1070), sec_bar=(778.3, 1215.7), oxy_bar=(801, 1169), deoxy_bar=(801, 1298.3),
         acc_bar=(801, 1392.3), gyr_bar=(801, 1432.7), mag_bar=(801, 1496),
         sens_x=1161.4, sens_y=(1359.3, 1408.3, 1451.7),
         oxy_leg=(1144, 1083, 16.7), deoxy_leg=(1142, 1272, 16.7)),
]

# traces per panel: [black, blue, green, red] for NIRS, [x, y, z] for sensors
TRACES = [
    dict(oxy=[(s3g1_oxy_black_t, s3g1_oxy_black_v), (s3g1_oxy_blue_t, s3g1_oxy_blue_v),
              (s3g1_oxy_green_t, s3g1_oxy_green_v), (s3g1_oxy_red_t, s3g1_oxy_red_v)],
         deoxy=[(s3g1_deoxy_black_t, s3g1_deoxy_black_v), (s3g1_deoxy_blue_t, s3g1_deoxy_blue_v),
                (s3g1_deoxy_green_t, s3g1_deoxy_green_v), (s3g1_deoxy_red_t, s3g1_deoxy_red_v)],
         acc=[(s3g1_ax_t, s3g1_ax_v), (s3g1_ay_t, s3g1_ay_v), (s3g1_az_t, s3g1_az_v)],
         gyr=[(s3g1_gx_t, s3g1_gx_v), (s3g1_gy_t, s3g1_gy_v), (s3g1_gz_t, s3g1_gz_v)],
         mag=[(s3g1_mx_t, s3g1_mx_v), (s3g1_my_t, s3g1_my_v), (s3g1_mz_t, s3g1_mz_v)]),
    dict(oxy=[(s4g1_oxy_black_t, s4g1_oxy_black_v), (s4g1_oxy_blue_t, s4g1_oxy_blue_v),
              (s4g1_oxy_green_t, s4g1_oxy_green_v), (s4g1_oxy_red_t, s4g1_oxy_red_v)],
         deoxy=[(s4g1_deoxy_black_t, s4g1_deoxy_black_v), (s4g1_deoxy_blue_t, s4g1_deoxy_blue_v),
                (s4g1_deoxy_green_t, s4g1_deoxy_green_v), (s4g1_deoxy_red_t, s4g1_deoxy_red_v)],
         acc=[(s4g1_ax_t, s4g1_ax_v), (s4g1_ay_t, s4g1_ay_v), (s4g1_az_t, s4g1_az_v)],
         gyr=[(s4g1_gx_t, s4g1_gx_v), (s4g1_gy_t, s4g1_gy_v), (s4g1_gz_t, s4g1_gz_v)],
         mag=[(s4g1_mx_t, s4g1_mx_v), (s4g1_my_t, s4g1_my_v), (s4g1_mz_t, s4g1_mz_v)]),
    dict(oxy=[(s3g2_oxy_black_t, s3g2_oxy_black_v), (s3g2_oxy_blue_t, s3g2_oxy_blue_v),
              (s3g2_oxy_green_t, s3g2_oxy_green_v), (s3g2_oxy_red_t, s3g2_oxy_red_v)],
         deoxy=[(s3g2_deoxy_black_t, s3g2_deoxy_black_v), (s3g2_deoxy_blue_t, s3g2_deoxy_blue_v),
                (s3g2_deoxy_green_t, s3g2_deoxy_green_v), (s3g2_deoxy_red_t, s3g2_deoxy_red_v)],
         acc=[(s3g2_ax_t, s3g2_ax_v), (s3g2_ay_t, s3g2_ay_v), (s3g2_az_t, s3g2_az_v)],
         gyr=[(s3g2_gx_t, s3g2_gx_v), (s3g2_gy_t, s3g2_gy_v), (s3g2_gz_t, s3g2_gz_v)],
         mag=[(s3g2_mx_t, s3g2_mx_v), (s3g2_my_t, s3g2_my_v), (s3g2_mz_t, s3g2_mz_v)]),
    dict(oxy=[(s4g2_oxy_black_t, s4g2_oxy_black_v), (s4g2_oxy_blue_t, s4g2_oxy_blue_v),
              (s4g2_oxy_green_t, s4g2_oxy_green_v), (s4g2_oxy_red_t, s4g2_oxy_red_v)],
         deoxy=[(s4g2_deoxy_black_t, s4g2_deoxy_black_v), (s4g2_deoxy_blue_t, s4g2_deoxy_blue_v),
                (s4g2_deoxy_green_t, s4g2_deoxy_green_v), (s4g2_deoxy_red_t, s4g2_deoxy_red_v)],
         acc=[(s4g2_ax_t, s4g2_ax_v), (s4g2_ay_t, s4g2_ay_v), (s4g2_az_t, s4g2_az_v)],
         gyr=[(s4g2_gx_t, s4g2_gx_v), (s4g2_gy_t, s4g2_gy_v), (s4g2_gz_t, s4g2_gz_v)],
         mag=[(s4g2_mx_t, s4g2_mx_v), (s4g2_my_t, s4g2_my_v), (s4g2_mz_t, s4g2_mz_v)]),
    dict(oxy=[(s3g3_oxy_black_t, s3g3_oxy_black_v), (s3g3_oxy_blue_t, s3g3_oxy_blue_v),
              (s3g3_oxy_green_t, s3g3_oxy_green_v), (s3g3_oxy_red_t, s3g3_oxy_red_v)],
         deoxy=[(s3g3_deoxy_black_t, s3g3_deoxy_black_v), (s3g3_deoxy_blue_t, s3g3_deoxy_blue_v),
                (s3g3_deoxy_green_t, s3g3_deoxy_green_v), (s3g3_deoxy_red_t, s3g3_deoxy_red_v)],
         acc=[(s3g3_ax_t, s3g3_ax_v), (s3g3_ay_t, s3g3_ay_v), (s3g3_az_t, s3g3_az_v)],
         gyr=[(s3g3_gx_t, s3g3_gx_v), (s3g3_gy_t, s3g3_gy_v), (s3g3_gz_t, s3g3_gz_v)],
         mag=[(s3g3_mx_t, s3g3_mx_v), (s3g3_my_t, s3g3_my_v), (s3g3_mz_t, s3g3_mz_v)]),
    dict(oxy=[(s4g3_oxy_black_t, s4g3_oxy_black_v), (s4g3_oxy_blue_t, s4g3_oxy_blue_v),
              (s4g3_oxy_green_t, s4g3_oxy_green_v), (s4g3_oxy_red_t, s4g3_oxy_red_v)],
         deoxy=[(s4g3_deoxy_black_t, s4g3_deoxy_black_v), (s4g3_deoxy_blue_t, s4g3_deoxy_blue_v),
                (s4g3_deoxy_green_t, s4g3_deoxy_green_v), (s4g3_deoxy_red_t, s4g3_deoxy_red_v)],
         acc=[(s4g3_ax_t, s4g3_ax_v), (s4g3_ay_t, s4g3_ay_v), (s4g3_az_t, s4g3_az_v)],
         gyr=[(s4g3_gx_t, s4g3_gx_v), (s4g3_gy_t, s4g3_gy_v), (s4g3_gz_t, s4g3_gz_v)],
         mag=[(s4g3_mx_t, s4g3_mx_v), (s4g3_my_t, s4g3_my_v), (s4g3_mz_t, s4g3_mz_v)]),
]

sns.set_style("white")
plt.rcParams["font.family"] = ["Liberation Sans", "DejaVu Sans"]

fig = plt.figure(figsize=(W / 100, H / 100), dpi=100)
frame = fig.add_axes([0, 0, 1, 1])
frame.set_xlim(0, W)
frame.set_ylim(H, 0)
frame.set_axis_off()


def signal_axes(x0, pps, y0, ppu):
    # full-figure axes in seconds / signal units, t=0 at pixel x0, value 0 at pixel row y0
    ax = fig.add_axes([0, 0, 1, 1])
    ax.set_axis_off()
    return ax, (-x0 / pps, (W - x0) / pps), ((y0 - H) / ppu, y0 / ppu)


def draw(ax, lims, traces, styles):
    for (t, v), (color, lw, ls) in zip(traces, styles):
        sns.lineplot(x=t, y=v, ax=ax, color=color, linewidth=lw, linestyle=ls,
                     estimator=None, sort=False, legend=False)
    ax.set_xlim(*lims[0])
    ax.set_ylim(*lims[1])
    ax.set_axis_off()


def vbar(x, y_bot, length, label, size, dx=19):
    frame.plot([x, x], [y_bot, y_bot - length], color="k", lw=1.3)
    for yy in (y_bot, y_bot - length):
        frame.plot([x - 3.5, x + 3.5], [yy, yy], color="k", lw=1.3)
    frame.text(x - dx, y_bot - length / 2, label, rotation=90, ha="center", va="center",
               fontsize=size)


def legend(x, y, step, labels, styles):
    for i, (label, (color, lw, ls)) in enumerate(zip(labels, styles)):
        yy = y + i * step
        frame.plot([x, x + 20], [yy, yy], color=color, lw=1.4, linestyle=ls)
        frame.text(x + 22, yy, label, ha="left", va="center", fontsize=10.5)


nirs_styles = [(BLACK, 1.4, "-"), (BLUE, 1.4, "-"), (GREEN, 1.4, "-"), (RED, 1.3, DASH)]
sens_styles = [(BLACK, 1.2, "-")] * 3

for L, T in zip(PANELS, TRACES):
    ax, xl, yl = signal_axes(L["x0"], L["pps"], L["oxy_y0"], L["ppu"])
    draw(ax, (xl, yl), T["oxy"], nirs_styles)
    ax, xl, yl = signal_axes(L["x0"], L["pps"], L["deoxy_y0"], L["ppu"])
    draw(ax, (xl, yl), T["deoxy"], nirs_styles)
    ax, xl, yl = signal_axes(L["x0"], L["pps"], L["acc_y0"], L["ppg"])
    draw(ax, (xl, yl), T["acc"], sens_styles)
    ax, xl, yl = signal_axes(L["x0"], L["pps"], L["gyr_y0"], L["ppd"])
    draw(ax, (xl, yl), T["gyr"], sens_styles)
    ax, xl, yl = signal_axes(L["x0"], L["pps"], L["mag_y0"], L["ppt"])
    draw(ax, (xl, yl), T["mag"], sens_styles)

    frame.text(*L["nirs"], "NIRS", ha="center", va="center", fontsize=9.5, fontweight="bold")
    # 1 sec bar
    bx, by = L["sec_bar"]
    frame.plot([bx, bx + L["pps"]], [by, by], color="k", lw=1.3)
    for xx in (bx, bx + L["pps"]):
        frame.plot([xx, xx], [by - 3.5, by + 3.5], color="k", lw=1.3)
    frame.text(bx + 9, by - 14, "1 sec", ha="left", va="center", fontsize=13.5)
    # amplitude bars
    vbar(*L["oxy_bar"], 4 * L["ppu"], "4µmol", 14)
    vbar(*L["deoxy_bar"], 4 * L["ppu"], "4µmol", 14)
    vbar(*L["acc_bar"], 2 * L["ppg"], "2g", 10, dx=13)
    vbar(*L["gyr_bar"], 500 * L["ppd"], "500°/s", 9.5, dx=13)
    vbar(*L["mag_bar"], 100 * L["ppt"], "100µT", 10, dx=12)
    for name, yy in zip(["Ax, Ay, Az", "Gx, Gy, Gz", "Mx, My, Mz"], L["sens_y"]):
        frame.text(L["sens_x"], yy, name, ha="center", va="center", fontsize=10, fontweight="bold")
    legend(*L["oxy_leg"], oxy_labels, nirs_styles[::-1])
    legend(*L["deoxy_leg"], deoxy_labels, nirs_styles)

# panel frame
frame.plot([40, 1428, 1428, 40, 40], [36, 36, 1537, 1537, 36], color="k", lw=1.3)
frame.plot([735, 735], [36, 1537], color="k", lw=1.5)
for yy in (555, 1046):
    frame.plot([40, 1428], [yy, yy], color="k", lw=2.2)

for x, s in zip([350, 1102], subjects):
    frame.text(x, 11, s, ha="center", va="center", fontsize=13, fontweight="bold")
for y, s in zip([300, 800, 1312], segments):
    frame.text(10, y, s, ha="center", va="center", rotation=90, fontsize=13, fontweight="bold")

fig.savefig("out.png", dpi=100)
